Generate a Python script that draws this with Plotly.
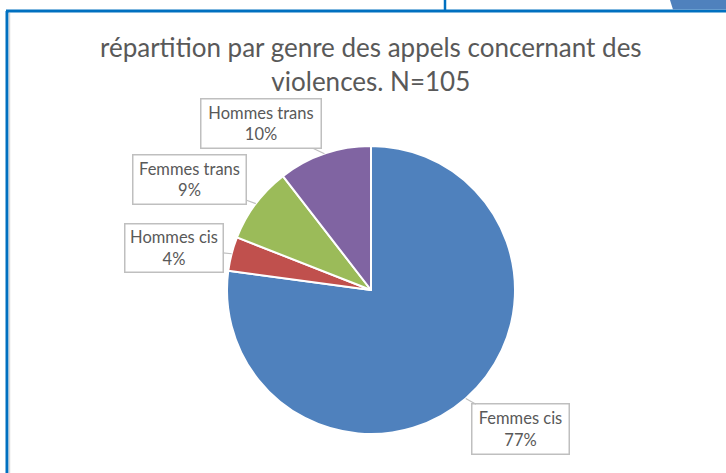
import numpy as np
import plotly.graph_objects as go

# Data
categories = ["Femmes cis", "Hommes cis", "Femmes trans", "Hommes trans"]
counts = [81, 4, 9, 11]
colors = ["#4F81BD", "#C0504D", "#9BBB59", "#8064A2"]
title_text = "répartition par genre des appels concernant des<br>violences. N=105"

W, H = 726, 473

def px(x):
    return x / W

def py(y):
    return 1 - y / H

# pie geometry (pixels)
cx, cy, r = 371, 290, 144

fig = go.Figure()
fig.add_trace(go.Pie(
    labels=categories,
    values=counts,
    sort=False,
    direction="clockwise",
    rotation=0,
    marker=dict(colors=colors, line=dict(color="white", width=2)),
    textinfo="none",
    hoverinfo="label+percent",
    showlegend=False,
    domain=dict(x=[px(cx - r), px(cx + r)], y=[py(cy + r), py(cy - r)]),
))

# label callouts
vals = np.array(counts, dtype=float)
frac = vals / vals.sum()
cum = np.cumsum(frac) - frac / 2
# box offsets relative to tip (pixels) and box sizes
offsets = [(55, 31), (-58, -6), (-66, -24), (-63, -30)]
sizes = [(99, 52), (100, 50), (115, 51), (122, 51)]
annotations = []
for lab, f, m, (ax, ay), (bw, bh) in zip(categories, frac, cum, offsets, sizes):
    ang = 2 * np.pi * m  # clockwise from top
    tx = cx + r * np.sin(ang)
    ty = cy - r * np.cos(ang)
    annotations.append(dict(
        x=px(tx), y=py(ty), xref="paper", yref="paper",
        text=f"{lab}<br>{round(f * 100):.0f}%",
        showarrow=True, arrowhead=0, arrowwidth=1.2, arrowcolor="#BFBFBF",
        ax=ax, ay=ay,
        bordercolor="#BFBFBF", borderwidth=1.5, borderpad=2,
        bgcolor="white", width=bw - 7, height=bh - 7,
        font=dict(family="Lato", size=16.5, color="#595959"),
        align="center",
    ))

annotations.append(dict(
    x=px(371), y=py(64), xref="paper", yref="paper", xanchor="center", yanchor="middle",
    text=title_text, showarrow=False,
    font=dict(family="Lato", size=26, color="#595959"),
))

shapes = [
    # outer frame (blue) and inner gray line
    dict(type="line", xref="paper", yref="paper", x0=px(7), x1=px(7), y0=py(11), y1=py(473),
         line=dict(color="#0070C0", width=3)),
    dict(type="line", xref="paper", yref="paper", x0=px(9.5), x1=px(9.5), y0=py(13), y1=py(473),
         line=dict(color="#D9D9D9", width=1.5)),
    dict(type="line", xref="paper", yref="paper", x0=px(6), x1=px(726), y0=py(11), y1=py(11),
         line=dict(color="#0070C0", width=3)),
    dict(type="line", xref="paper", yref="paper", x0=px(445), x1=px(445), y0=py(0), y1=py(11),
         line=dict(color="#0070C0", width=2.5)),
    dict(type="path", xref="paper", yref="paper",
         path=f"M {px(670)} {py(0)} L {px(726)} {py(0)} L {px(726)} {py(9.5)} L {px(673)} {py(9.5)} Z",
         fillcolor="#4F81BD", line=dict(width=0)),
]

fig.update_layout(
    width=W, height=H,
    margin=dict(l=0, r=0, t=0, b=0),
    paper_bgcolor="white",
    plot_bgcolor="white",
    annotations=annotations,
    shapes=shapes,
)

fig.write_html("out.html", config={"displayModeBar": False},
               post_script="document.body.style.margin='0';document.body.style.overflow='hidden';")
